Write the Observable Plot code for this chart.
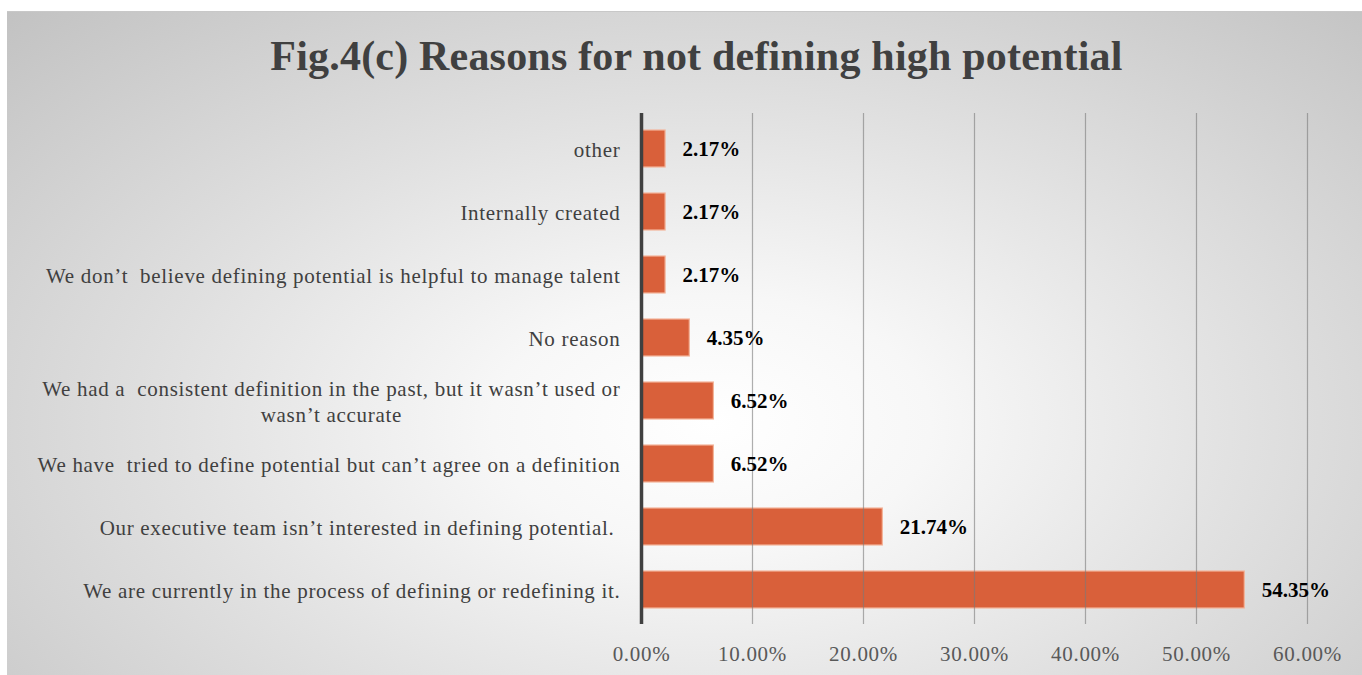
<!DOCTYPE html>
<html>
<head>
<meta charset="utf-8">
<script src="https://cdn.jsdelivr.net/npm/d3@7"></script>
<script src="https://cdn.jsdelivr.net/npm/@observablehq/plot@0.6"></script>
<style>
  html, body { margin: 0; padding: 0; background: #ffffff; }
  #frame {
    position: absolute; left: 7px; top: 11px; width: 1355px; height: 664px;
    background: radial-gradient(ellipse farthest-corner at 52% 62%, #ffffff 0%, #f7f7f7 22%, #e0e0e0 55%, #c2c2c2 100%);
    border-top: 1px solid #c8c8c8;
    overflow: hidden;
  }
  #title {
    position: absolute; left: 12px; top: 0; width: 1355px; height: 90px;
    text-align: center; line-height: 88px; letter-spacing: 0.2px;
    font-family: "Liberation Serif", serif; font-weight: bold; font-size: 42px; color: #404040;
  }
  #chart { position: absolute; left: 0; top: 90px; }
  #chart g[aria-label="y-axis tick label"] text,
  #chart g[aria-label="x-axis tick label"] text { letter-spacing: 0.7px; white-space: pre; }
</style>
</head>
<body>
<div id="frame">
  <div id="title">Fig.4(c) Reasons for not defining high potential</div>
  <div id="chart"></div>
</div>
<script>
const categories = [
  "other",
  "Internally created",
  "We don’t  believe defining potential is helpful to manage talent",
  "No reason",
  "We had a  consistent definition in the past, but it wasn’t used or\nwasn’t accurate",
  "We have  tried to define potential but can’t agree on a definition",
  "Our executive team isn’t interested in defining potential. ",
  "We are currently in the process of defining or redefining it."
];
const values = [2.17, 2.17, 2.17, 4.35, 6.52, 6.52, 21.74, 54.35];
const xTicks = [0, 10, 20, 30, 40, 50, 60];

const data = categories.map((c, i) => ({category: c, value: values[i]}));
const pct = d => d.toFixed(2) + "%";

const plot = Plot.plot({
  width: 1355,
  height: 574,
  marginLeft: 634,
  marginRight: 55,
  marginTop: 11,
  marginBottom: 52,
  style: {fontFamily: "Liberation Serif, serif", background: "transparent", overflow: "visible"},
  x: {domain: [0, 60], label: null},
  y: {domain: categories, paddingInner: 0.42, paddingOuter: 0.21, label: null},
  marks: [
    Plot.barX(data, {x: "value", y: "category", fill: "#d9603a", stroke: "#f3b49a", strokeWidth: 1.2}),
    Plot.ruleX(xTicks.slice(1), {stroke: "#7a7a7a", strokeOpacity: 0.6, strokeWidth: 1.2}),
    Plot.ruleX([0], {stroke: "#404040", strokeWidth: 3.5}),
    Plot.text(data, {x: "value", y: "category", text: d => pct(d.value), dx: 17, textAnchor: "start",
      fontWeight: "bold", fontSize: 21, fill: "#000000"}),
    Plot.axisX({ticks: xTicks, tickFormat: pct, tickSize: 0, tickPadding: 22, fontSize: 21, color: "#595959", label: null}),
    Plot.axisY({tickSize: 0, tickPadding: 21, fontSize: 21, color: "#404040", lineHeight: 1.2, label: null})
  ]
});
document.getElementById("chart").appendChild(plot);

// center multi-line category labels within their own box (like the original)
plot.querySelectorAll('g[aria-label="y-axis tick label"] text').forEach(t => {
  const spans = t.querySelectorAll("tspan");
  if (spans.length > 1) {
    let w = 0;
    spans.forEach(s => { w = Math.max(w, s.getComputedTextLength()); });
    t.setAttribute("text-anchor", "middle");
    spans.forEach(s => s.setAttribute("x", -w / 2));
  }
});
</script>
</body>
</html>
